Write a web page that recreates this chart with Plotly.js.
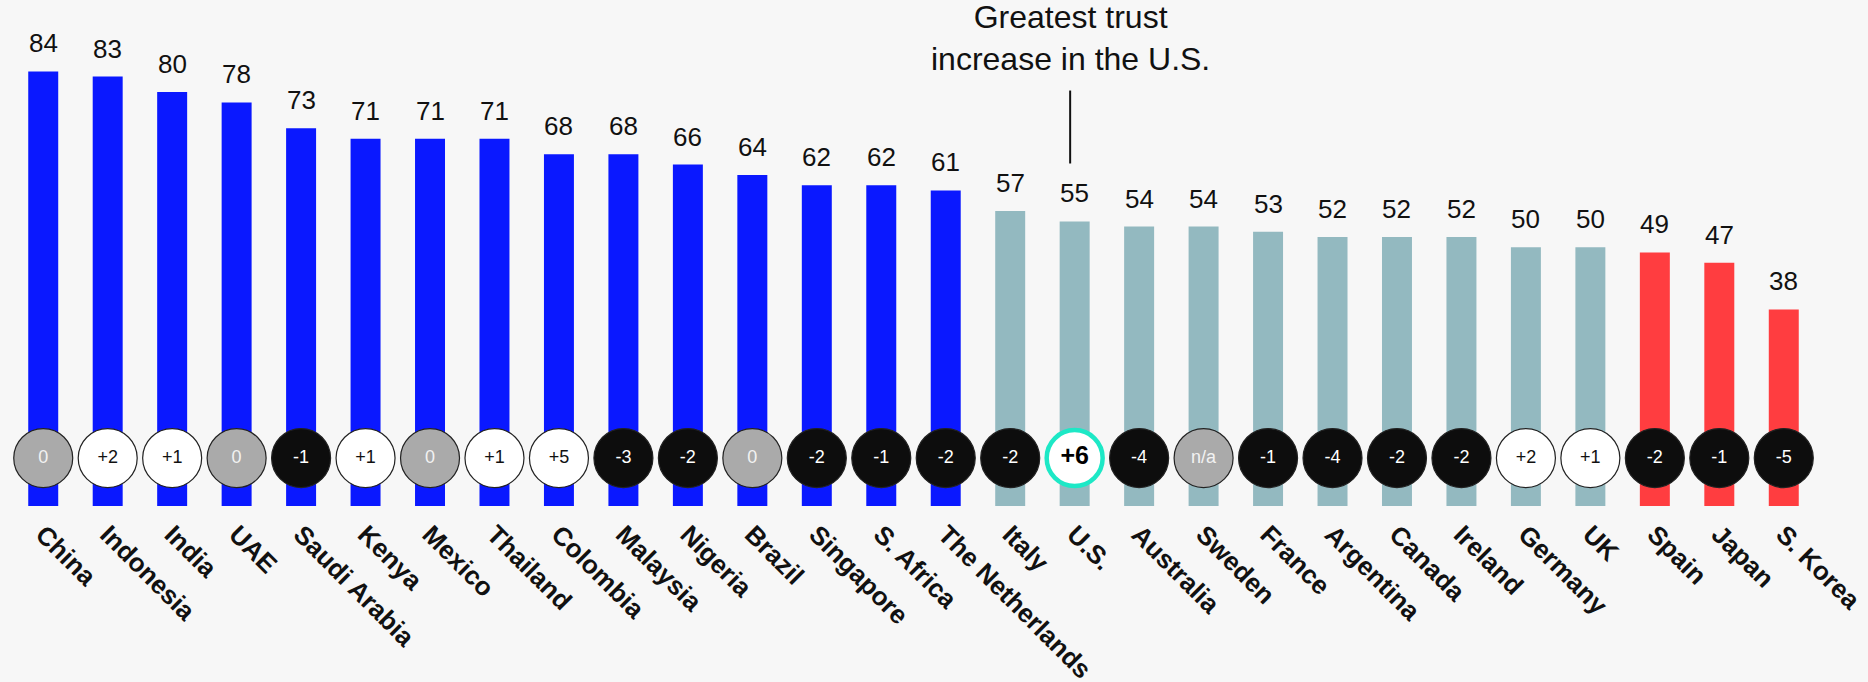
<!DOCTYPE html>
<html>
<head>
<meta charset="utf-8">
<script src="https://cdn.plot.ly/plotly-3.0.1.min.js"></script>
<style>html,body{margin:0;padding:0;background:#f7f7f7;}#chart{width:1868px;height:682px;}</style>
</head>
<body>
<div id="chart"></div>
<script>
var countries = ["China","Indonesia","India","UAE","Saudi Arabia","Kenya","Mexico","Thailand","Colombia","Malaysia","Nigeria","Brazil","Singapore","S. Africa","The Netherlands","Italy","U.S.","Australia","Sweden","France","Argentina","Canada","Ireland","Germany","UK","Spain","Japan","S. Korea"];
var trust = [84,83,80,78,73,71,71,71,68,68,66,64,62,62,61,57,55,54,54,53,52,52,52,50,50,49,47,38];
var change = ["0","+2","+1","0","-1","+1","0","+1","+5","-3","-2","0","-2","-1","-2","-2","+6","-4","n/a","-1","-4","-2","-2","+2","+1","-2","-1","-5"];
var highlight = "U.S.";
var noteText = "Greatest trust<br>increase in the U.S.";

var FONT = "Liberation Sans, Arial, Helvetica, sans-serif";
var BLUE = "#0a18ff", TEAL = "#93b9c0", RED = "#ff3d40";
var CYAN = "#1de8c6";

function barColor(v){ return v >= 60 ? BLUE : (v >= 50 ? TEAL : RED); }
function circleFill(c){
  if (c === "n/a" || Number(c) === 0) return "#aaaaaa";
  return Number(c) > 0 ? "#ffffff" : "#0d0d0d";
}
function circleText(c){
  if (c === "n/a" || Number(c) === 0) return "#f2f2f2";
  return Number(c) > 0 ? "#111111" : "#ffffff";
}

var idx = countries.map(function(_, i){ return i; });
var hi = countries.indexOf(highlight);
var circleY = 9.26;

var bars = {
  type: "bar", x: idx, y: trust,
  marker: { color: trust.map(barColor) },
  width: 0.465, hoverinfo: "skip"
};

var circles = {
  type: "scatter", mode: "markers+text", x: idx,
  y: idx.map(function(){ return circleY; }),
  text: change.map(function(c, i){ return i === hi ? "<b>" + c + "</b>" : c; }),
  textposition: "middle center",
  textfont: {
    family: FONT,
    size: change.map(function(c, i){ return i === hi ? 25 : 18; }),
    color: change.map(function(c, i){ return i === hi ? "#000" : circleText(c); })
  },
  marker: {
    opacity: 1,
    size: change.map(function(c, i){ return i === hi ? 56 : 59; }),
    color: change.map(function(c, i){ return i === hi ? "#ffffff" : circleFill(c); }),
    line: {
      color: change.map(function(c, i){ return i === hi ? CYAN : "#222222"; }),
      width: change.map(function(c, i){ return i === hi ? 4.5 : 1.2; })
    }
  },
  cliponaxis: false, hoverinfo: "skip"
};

var annotations = trust.map(function(v, i){
  return {
    x: i, y: v, xref: "x", yref: "y", text: String(v), showarrow: false,
    yanchor: "bottom", yshift: 11,
    font: { family: FONT, size: 26, color: "#111" }
  };
});
annotations.push({
  x: hi - 0.07, xref: "x", y: 1, yref: "paper", yanchor: "top", yshift: 3,
  text: noteText, showarrow: false, align: "center",
  font: { family: FONT, size: 32, color: "#111" }
});

var layout = {
  width: 1868, height: 682,
  paper_bgcolor: "#f7f7f7", plot_bgcolor: "#f7f7f7",
  margin: { l: 11, r: 52, t: 0, b: 176 },
  showlegend: false,
  xaxis: {
    range: [-0.5, countries.length - 0.5],
    tickmode: "array", tickvals: idx,
    ticktext: countries.map(function(c){ return "<b>" + c + "</b>"; }),
    tickangle: 45, showgrid: false, zeroline: false, showline: false,
    ticks: "", ticklabelstandoff: 7,
    tickfont: { family: FONT, size: 26, color: "#111" },
    fixedrange: true
  },
  yaxis: {
    range: [0, 97.8], visible: false, showgrid: false, zeroline: false, fixedrange: true
  },
  shapes: [{
    type: "line", xref: "x", yref: "y",
    x0: hi - 0.07, x1: hi - 0.07, y0: 66.2, y1: 80.3,
    line: { color: "#111", width: 2 }
  }],
  annotations: annotations
};

Plotly.newPlot("chart", [bars, circles], layout, { displayModeBar: false, staticPlot: true });
</script>
</body>
</html>
